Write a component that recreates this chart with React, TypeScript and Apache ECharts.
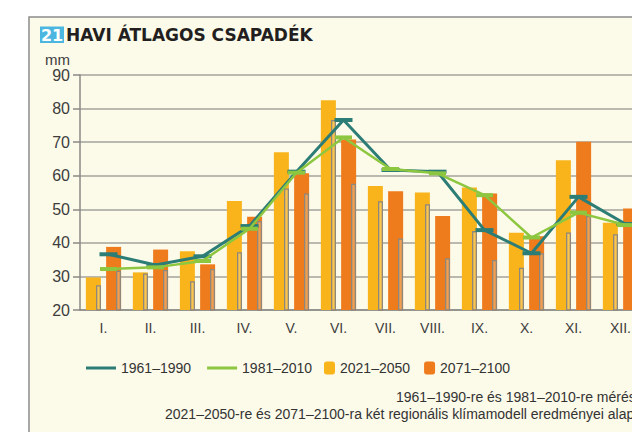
import React, { useEffect, useRef } from "react";
import * as echarts from "echarts";

const months = ["I.", "II.", "III.", "IV.", "V.", "VI.", "VII.", "VIII.", "IX.", "X.", "XI.", "XII."];
const p1961_1990 = [36.6, 33.4, 36, 45, 61.2, 76.6, 61.7, 61.2, 43.8, 36.9, 53.7, 45.6];
const p1981_2010 = [32.2, 32.7, 34.6, 44.2, 60.9, 71.4, 62, 60.7, 54.2, 41.6, 49, 45.3];
const p2021_2050 = [29.7, 31.2, 37.5, 52.5, 67, 82.5, 56.9, 55, 56.5, 43, 64.6, 46];
const p2071_2100 = [38.8, 38, 33.6, 47.8, 60.7, 70.8, 55.4, 48, 54.7, 42, 70.1, 50.2];
const p2021_2050_m2 = [27.4, 30.9, 28.6, 37.2, 56.2, 76.6, 52.4, 51.5, 43.5, 32.6, 43.1, 42.6];
const p2071_2100_m2 = [31.7, 31.9, 32.2, 46.5, 54.7, 57.6, 41.3, 35.4, 34.9, 36.9, 48, 44];
const yTicks = { min: 20, max: 90, interval: 10 };

const FONT = "'Liberation Sans', Arial, sans-serif";
const C_TEAL = "#2b7d76";
const C_GREEN = "#8dc63f";
const C_YELLOW = "#f9b41b";
const C_ORANGE = "#ee7b1c";

export default function App() {
  const ref = useRef<HTMLDivElement>(null);
  useEffect(() => {
    document.body.style.margin = "0";
    const chart = echarts.init(ref.current!, null, { renderer: "svg" });
    const gridBox = { top: 75, width: 564, height: 235 };
    const axisCol = "#8a8a86";
    const legendText = { fontSize: 14, color: "#333", fontFamily: FONT };
    chart.setOption({
      animation: false,
      backgroundColor: "#ffffff",
      textStyle: { fontFamily: FONT },
      grid: [
        { left: 80, ...gridBox },
        { left: 85, ...gridBox },
      ],
      xAxis: [
        {
          type: "category",
          gridIndex: 0,
          data: months,
          axisLine: { lineStyle: { color: axisCol, width: 1.5 } },
          axisTick: { length: 5, lineStyle: { color: axisCol, width: 1.5 } },
          axisLabel: { fontSize: 14, color: "#3d3d3d", margin: 11, fontFamily: FONT },
        },
        { type: "category", gridIndex: 1, data: months, show: false },
      ],
      yAxis: [
        {
          type: "value",
          gridIndex: 0,
          ...yTicks,
          axisLine: { show: true, lineStyle: { color: axisCol, width: 1.5 } },
          axisTick: { show: true, length: 7, lineStyle: { color: axisCol, width: 1.5 } },
          splitLine: { lineStyle: { color: "#a3a39c", width: 1.5 } },
          axisLabel: { fontSize: 16, color: "#3d3d3d", margin: 10, fontFamily: FONT },
        },
        { type: "value", gridIndex: 1, ...yTicks, show: false },
      ],
      legend: [
        {
          data: [
            { name: "1961–1990", icon: "rect" },
            { name: "1981–2010", icon: "rect" },
          ],
          left: 81,
          top: 356,
          itemWidth: 30,
          itemHeight: 3,
          itemGap: 16,
          textStyle: legendText,
        },
        {
          data: ["2021–2050", "2071–2100"],
          left: 319,
          top: 356,
          itemWidth: 11,
          itemHeight: 13,
          itemGap: 14,
          textStyle: legendText,
        },
      ],
      graphic: [
        {
          type: "rect",
          z: -100,
          silent: true,
          shape: { x: 29, y: 17, width: 700, height: 500 },
          style: { fill: "#fcfae9", stroke: "#8c8c8c", lineWidth: 1.5 },
        },
        {
          type: "rect",
          shape: { x: 40, y: 26.5, width: 24, height: 16.5 },
          style: { fill: "#4bb6df" },
        },
        {
          type: "text",
          x: 52,
          y: 35,
          style: {
            text: "21",
            fill: "#ffffff",
            font: "bold 16px 'DejaVu Sans', sans-serif",
            align: "center",
            verticalAlign: "middle",
          },
        },
        {
          type: "text",
          x: 66,
          y: 35,
          style: {
            text: "HAVI ÁTLAGOS CSAPADÉK",
            fill: "#231f20",
            font: "bold 17px 'DejaVu Sans', sans-serif",
            verticalAlign: "middle",
          },
        },
        {
          type: "text",
          x: 45,
          y: 59,
          style: {
            text: "mm",
            fill: "#3d3d3d",
            font: "15px " + FONT,
            verticalAlign: "middle",
          },
        },
        {
          type: "text",
          x: 396,
          y: 397,
          style: {
            text: "1961–1990-re és 1981–2010-re mérések alapján,",
            fill: "#333",
            font: "14px " + FONT,
            verticalAlign: "middle",
          },
        },
        {
          type: "text",
          x: 165,
          y: 414,
          style: {
            text: "2021–2050-re és 2071–2100-ra két regionális klímamodell eredményei alapján",
            fill: "#333",
            font: "14px " + FONT,
            verticalAlign: "middle",
          },
        },
      ],
      series: [
        {
          name: "2021–2050",
          type: "bar",
          xAxisIndex: 0,
          yAxisIndex: 0,
          data: p2021_2050,
          barWidth: 15,
          barGap: "35%",
          itemStyle: { color: C_YELLOW },
        },
        {
          name: "2071–2100",
          type: "bar",
          xAxisIndex: 0,
          yAxisIndex: 0,
          data: p2071_2100,
          barWidth: 15,
          barGap: "35%",
          itemStyle: { color: C_ORANGE },
        },
        {
          name: "2021–2050 (2. modell)",
          type: "bar",
          xAxisIndex: 1,
          yAxisIndex: 1,
          data: p2021_2050_m2,
          barWidth: 5,
          barGap: "300%",
          z: 3,
          itemStyle: { color: "rgba(255,240,200,0.3)", borderColor: "#8e877b", borderWidth: 1.3 },
        },
        {
          name: "2071–2100 (2. modell)",
          type: "bar",
          xAxisIndex: 1,
          yAxisIndex: 1,
          data: p2071_2100_m2,
          barWidth: 5,
          barGap: "300%",
          z: 3,
          itemStyle: { color: "rgba(255,240,200,0.3)", borderColor: "#8e877b", borderWidth: 1.3 },
        },
        {
          name: "1961–1990",
          type: "line",
          xAxisIndex: 1,
          yAxisIndex: 1,
          data: p1961_1990,
          z: 4,
          symbol: "rect",
          symbolSize: [18, 4],
          itemStyle: { color: C_TEAL },
          lineStyle: { color: C_TEAL, width: 3 },
        },
        {
          name: "1981–2010",
          type: "line",
          xAxisIndex: 1,
          yAxisIndex: 1,
          data: p1981_2010,
          z: 5,
          symbol: "rect",
          symbolSize: [17, 4],
          itemStyle: { color: C_GREEN },
          lineStyle: { color: C_GREEN, width: 2.5 },
        },
      ],
    });
    return () => chart.dispose();
  }, []);
  return (
    <div style={{ width: 632, height: 432, overflow: "hidden", position: "relative" }}>
      <div ref={ref} style={{ width: 660, height: 432 }} />
    </div>
  );
}
